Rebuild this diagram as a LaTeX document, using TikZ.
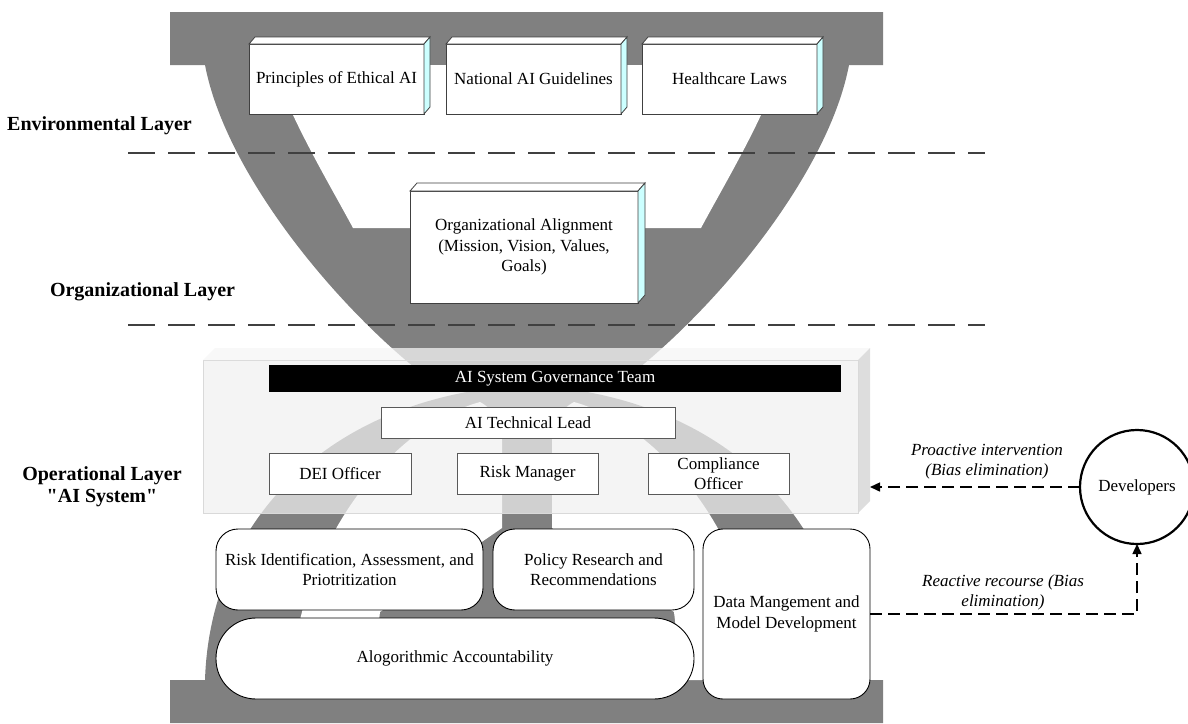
\documentclass[tikz,border=0pt]{standalone}
\usepackage{fontspec}
\setmainfont{Liberation Serif}
\usetikzlibrary{arrows.meta}

\definecolor{bandgray}{HTML}{808080}
\definecolor{sidecyan}{HTML}{CCFFFF}
\definecolor{panelgray}{HTML}{F0F0F0}

\begin{document}
\begin{tikzpicture}[x=1pt,y=-1pt,
    every node/.style={inner sep=0pt,outer sep=0pt},
    boxtext/.style={font=\fontsize{17}{20.5}\selectfont,align=center},
    slab/.style={boxtext,draw=black!75,line width=0.8pt,fill=white},
    role/.style={boxtext,draw=black!65,line width=0.8pt,fill=white},
    task/.style={boxtext,draw=black,line width=0.9pt,fill=white},
    layername/.style={font=\fontsize{20}{22}\selectfont\bfseries,align=center},
    note/.style={font=\fontsize{17}{20}\selectfont\itshape,align=center},
    flow/.style={line width=1.5pt,dash pattern=on 12pt off 6pt,-{Triangle[length=10pt,width=9pt]}},
    layerline/.style={line width=2pt,black!75,dash pattern=on 27pt off 13pt}]
    \useasboundingbox (0,0) rectangle (1188,723);
    % hourglass backdrop
    \fill[bandgray] (170,12) -- (883,12) -- (883,65) -- (849,65) .. controls (829,170) and (724,300) .. (634,372) -- (609,392) -- (445,392) -- (420,372) .. controls (330,300) and (225,170) .. (205,65) -- (170,65) -- cycle;
    \fill[white] (274,65) .. controls (285,110) and (330,185) .. (353,228) -- (701,228) .. controls (724,185) and (769,110) .. (780,65) -- cycle;
    \fill[bandgray] (170,723) -- (170,680) -- (205,680) .. controls (210,520) and (330,395) .. (527,385) .. controls (724,395) and (844,520) .. (849,680) -- (883,680) -- (883,723) -- cycle;
    \fill[white] (292,680) .. controls (295,560) and (380,430) .. (480,402) .. controls (495,410) and (502,425) .. (502,440) -- (502,528) -- (380,612) -- (372,680) -- cycle;
    \fill[white] (762,680) .. controls (759,560) and (674,430) .. (574,402) .. controls (559,410) and (552,425) .. (552,440) -- (552,528) -- (674,612) -- (682,680) -- cycle;
    % layer borders
    \draw[layerline] (128,153) -- (985,153);
    \draw[layerline] (128,325) -- (985,325);
    \node[layername] (envlbl) at (99.5,126) {Environmental Layer};
    \node[layername] (orglbl) at (142.5,292) {Organizational Layer};
    \node[layername] (oplbl) at (102,487) {Operational Layer\\\textquotedbl AI System\textquotedbl};
    % environmental layer
    \foreach \name/\cx/\txt in {ethics/336.5/Principles of Ethical AI,guide/533.5/National AI Guidelines,laws/729.5/Healthcare Laws}{
        \node[slab,minimum width=175pt,minimum height=70pt] (\name) at (\cx,79) {\txt};
        \filldraw[fill=white,draw=black!75,line width=0.8pt] (\name.north west) -- ++(6,-7) -- ++(175,0) -- (\name.north east) -- cycle;
        \filldraw[fill=sidecyan,draw=black!75,line width=0.8pt] (\name.north east) -- ++(6,-7) -- ++(0,70) -- (\name.south east) -- cycle;
    }
    % organizational layer
    \node[slab,minimum width=228pt,minimum height=112pt] (orgalign) at (524,247) {Organizational Alignment\\(Mission, Vision, Values,\\Goals)};
    \filldraw[fill=white,draw=black!75,line width=0.8pt] (orgalign.north west) -- ++(7,-8) -- ++(228,0) -- (orgalign.north east) -- cycle;
    \filldraw[fill=sidecyan,draw=black!75,line width=0.8pt] (orgalign.north east) -- ++(7,-8) -- ++(0,112) -- (orgalign.south east) -- cycle;
    % operational layer
    \node[minimum width=655pt,minimum height=153pt,fill=panelgray,fill opacity=0.72,draw=black!15,line width=0.6pt] (oplayer) at (530.5,436.5) {};
    \fill[black!4,fill opacity=0.75] (oplayer.north west) -- ++(12,-12) -- ++(655,0) -- (oplayer.north east) -- cycle;
    \fill[black!15,fill opacity=0.9] (oplayer.north east) -- ++(12,-12) -- ++(0,153) -- (oplayer.south east) -- cycle;
    \node[boxtext,fill=black,text=white,minimum width=572pt,minimum height=27pt] (govteam) at (555,378.5) {AI System Governance Team};
    \node[role,minimum width=294pt,minimum height=31pt] (techlead) at (528,422.5) {AI Technical Lead};
    \node[role,minimum width=142pt,minimum height=41pt] (dei) at (340,473.5) {DEI Officer};
    \node[role,minimum width=141pt,minimum height=41pt] (riskmgr) at (527.5,473.5) {Risk Manager};
    \node[role,minimum width=141pt,minimum height=41pt] (compliance) at (718.5,473.5) {Compliance\\Officer};
    \node[task,rounded corners=22pt,minimum width=267pt,minimum height=81pt] (riskid) at (349.5,569.5) {Risk Identification, Assessment, and\\Priotritization};
    \node[task,rounded corners=22pt,minimum width=201pt,minimum height=81pt] (policy) at (593.5,569.5) {Policy Research and\\Recommendations};
    \node[task,rounded corners=40pt,minimum width=478pt,minimum height=81pt] (algo) at (455,658.5) {Alogorithmic Accountability};
    \node[task,rounded corners=20pt,minimum width=167pt,minimum height=170pt] (datadev) at (786.5,614) {Data Mangement and\\Model Development};
    % developers and feedback
    \node[boxtext,circle,draw=black,line width=2.2pt,minimum size=114pt] (dev) at (1137,487) {Developers};
    \draw[flow] (dev.west) -- ([xshift=12pt]oplayer.east |- dev.west);
    \draw[flow] (datadev.east) -| (dev.south);
    \node[note] (proactlbl) at (987,462) {Proactive intervention\\(Bias elimination)};
    \node[note] (reactlbl) at (1003,592) {Reactive recourse (Bias\\elimination)};
\end{tikzpicture}
\end{document}
